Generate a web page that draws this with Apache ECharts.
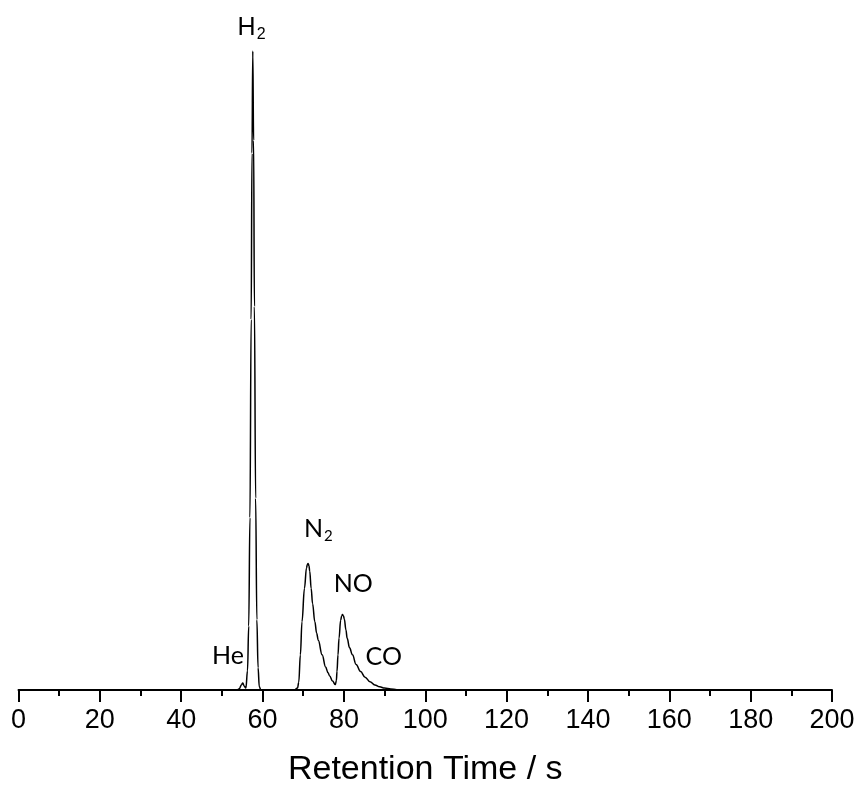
<!DOCTYPE html>
<html>
<head>
<meta charset="utf-8">
<script src="https://cdn.jsdelivr.net/npm/echarts@6/dist/echarts.min.js"></script>
<style>
html,body{margin:0;padding:0;background:#fff;}
#chart{width:859px;height:792px;}
</style>
</head>
<body>
<div id="chart"></div>
<script>
// Retention time (s)
var retentionTime = [0, 53.8, 54.3, 54.8, 55.15, 55.5, 55.9, 56.3, 56.6, 56.9, 57.2, 57.4, 57.6, 57.8, 58.0, 58.3, 58.6, 58.9, 59.2, 59.6,
  67.8, 68.6, 68.9, 69.3, 69.7, 70.3, 70.8, 71.0, 71.2, 71.4, 71.6, 71.95, 72.3, 72.85, 73.3, 73.7, 74.65, 75.5, 76.1, 76.5, 77.2, 77.9,
  78.15, 78.3, 78.55, 78.8, 79.2, 79.45, 79.65, 79.9, 80.1, 80.5, 80.8, 81.4, 82.1, 83.0, 84.1, 85.2, 86.4, 87.6, 88.8, 90.0, 91.5, 93.0, 95.0, 200];
// Detector signal (normalised, H2 peak = 100)
var signal = [0, 0, 0.2, 0.8, 1.1, 0.6, 0.3, 3, 10, 27, 58, 84, 100, 86, 60, 30, 11, 3.5, 0.5, 0,
  0, 0.3, 1.2, 5.5, 10.7, 15.9, 19.1, 19.6, 19.8, 19.5, 18.6, 15.9, 13.5, 10.7, 8.9, 7.8, 5.5, 3.6, 2.7, 2.2, 1.4, 0.85,
  1.5, 2.9, 5.5, 8.1, 10.9, 11.6, 11.8, 11.6, 11.1, 9.4, 8.1, 6.6, 5.5, 4.0, 2.9, 2.0, 1.3, 0.8, 0.5, 0.3, 0.15, 0.05, 0, 0];
// Peak annotations
var peakNames = ['He', 'H2', 'N2', 'NO', 'CO'];
var peakLabelTime = [51.5, 57.3, 73.7, 82.3, 89.8];
var peakLabelSignal = [5.3, 103.6, 25.2, 16.6, 5.2];
var xTicks = {min: 0, max: 200, interval: 20};

var data = retentionTime.map(function (t, i) { return [t, signal[i]]; });

function labelText(name) {
  if (name === 'H2') return '{h|H}{hs|2}';
  if (name === 'N2') return '{n|N}{ns|2}';
  return '{n|' + name + '}';
}

var marks = peakNames.map(function (n, i) {
  return {
    name: n,
    coord: [peakLabelTime[i], peakLabelSignal[i]],
    label: {formatter: labelText(n)}
  };
});

var chart = echarts.init(document.getElementById('chart'));
chart.setOption({
  animation: false,
  backgroundColor: '#fff',
  grid: {left: 18.5, right: 27, top: 12.7, bottom: 102},
  xAxis: {
    type: 'value',
    min: xTicks.min, max: xTicks.max, interval: xTicks.interval,
    name: 'Retention Time / s',
    nameLocation: 'middle',
    nameGap: 63,
    nameTextStyle: {fontFamily: 'Liberation Sans', fontSize: 34, color: '#000'},
    axisLine: {lineStyle: {color: '#000', width: 2}},
    axisTick: {length: 12, lineStyle: {color: '#000', width: 2}},
    minorTick: {show: true, splitNumber: 2, length: 6, lineStyle: {color: '#000', width: 2}},
    splitLine: {show: false},
    minorSplitLine: {show: false},
    axisLabel: {fontFamily: 'Liberation Sans', fontSize: 27, color: '#000', margin: 17}
  },
  yAxis: {type: 'value', min: 0, max: 106, show: false},
  series: [{
    type: 'line',
    data: data,
    showSymbol: false,
    smooth: 0.4,
    smoothMonotone: 'x',
    clip: false,
    lineStyle: {color: '#000', width: 1.5},
    markPoint: {
      symbol: 'circle',
      symbolSize: 0,
      label: {
        show: true,
        position: 'inside',
        color: '#000',
        rich: {
          h: {fontFamily: 'Liberation Sans', fontSize: 25, lineHeight: 30, color: '#000'},
          hs: {fontFamily: 'Liberation Sans', fontSize: 16, lineHeight: 16, verticalAlign: 'bottom', color: '#000', padding: [0, 0, 0, 1]},
          n: {fontFamily: 'Lato', fontSize: 25, lineHeight: 30, color: '#000'},
          ns: {fontFamily: 'Lato', fontSize: 15, lineHeight: 15, verticalAlign: 'bottom', color: '#000', padding: [0, 0, 0, 1]}
        }
      },
      data: marks
    }
  }]
});
</script>
</body>
</html>
